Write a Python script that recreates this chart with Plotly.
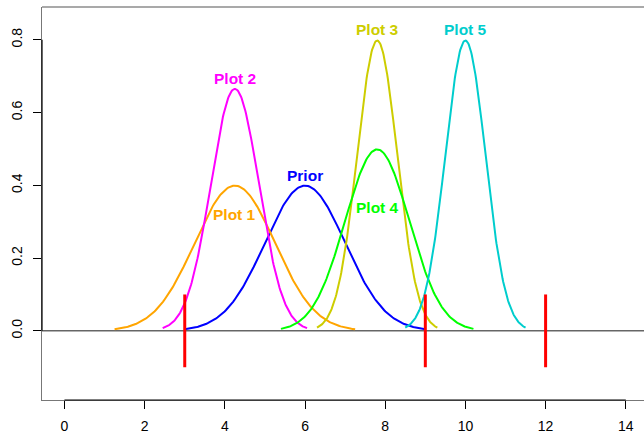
import numpy as np
import plotly.graph_objects as go

# Normal density curves: name, mean, sd, colour
curve_names = ["Prior", "Plot 1", "Plot 2", "Plot 3", "Plot 4", "Plot 5"]
curve_means = [6.0, 4.25, 4.25, 7.8, 7.8, 10.0]
curve_sds = [1.0, 1.0, 0.6, 0.5, 0.8, 0.5]
curve_colors = ["#0000FF", "#FFA500", "#FF00FF", "#CDCD00", "#00FF00", "#00CDCD"]

# Label positions (data coords)
label_x = [6.0, 4.25, 4.25, 7.8, 7.8, 10.0]
label_y = [0.428, 0.32, 0.693, 0.828, 0.338, 0.828]

# Red markers
marker_x = [3, 9, 12]
marker_lo = -0.1
marker_hi = 0.1

x_ticks = [0, 2, 4, 6, 8, 10, 12, 14]
y_ticks = [0.0, 0.2, 0.4, 0.6, 0.8]
y_tick_text = ["0.0", "0.2", "0.4", "0.6", "0.8"]

fig = go.Figure()

for name, m, s, c in zip(curve_names, curve_means, curve_sds, curve_colors):
    xs = np.linspace(m - 3 * s, m + 3 * s, 200)
    ys = np.exp(-0.5 * ((xs - m) / s) ** 2) / (s * np.sqrt(2 * np.pi))
    fig.add_trace(go.Scatter(x=xs, y=ys, mode="lines", line=dict(color=c, width=2),
                             showlegend=False, hoverinfo="skip"))

# horizontal reference line at 0
fig.add_hline(y=0, line=dict(color="#666666", width=1.5), layer="below")

# red segments
rx, ry = [], []
for v in marker_x:
    rx += [v, v, None]
    ry += [marker_lo, marker_hi, None]
fig.add_trace(go.Scatter(x=rx, y=ry, mode="lines", line=dict(color="#FF0000", width=3),
                         showlegend=False, hoverinfo="skip"))

for name, lx, ly, c in zip(curve_names, label_x, label_y, curve_colors):
    fig.add_annotation(x=lx, y=ly, text="<b>%s</b>" % name, showarrow=False,
                       font=dict(family="Liberation Sans, Arial", size=15.5, color=c))

# black axis segments between first and last ticks
fig.add_shape(type="line", xref="x", yref="paper", x0=x_ticks[0], x1=x_ticks[-1], y0=0, y1=0,
              line=dict(color="black", width=1.2))
fig.add_shape(type="line", xref="paper", yref="y", x0=0, x1=0, y0=y_ticks[0], y1=y_ticks[-1],
              line=dict(color="black", width=1.2))
# top of box
fig.add_shape(type="line", xref="paper", yref="paper", x0=0, x1=1, y0=1, y1=1,
              line=dict(color="#555555", width=1.2))

fig.update_layout(
    width=644, height=431,
    margin=dict(l=42, r=0, t=7, b=31, autoexpand=False),
    plot_bgcolor="white", paper_bgcolor="white",
    font=dict(family="Liberation Sans, Arial", size=14, color="black"),
    xaxis=dict(range=[-0.56, 14.454], tickvals=x_ticks, ticks="outside", ticklen=8,
               tickcolor="black", showgrid=False, zeroline=False, showline=True,
               linecolor="#777777", linewidth=1.2, ticklabelstandoff=5, automargin=False),
    yaxis=dict(range=[-0.19, 0.89], tickvals=y_ticks, ticktext=y_tick_text, ticks="outside",
               ticklen=8, tickcolor="black", tickangle=-90, showgrid=False, zeroline=False,
               showline=True, linecolor="#777777", linewidth=1.2, ticklabelstandoff=5,
               automargin=False),
)

fig.write_html("out.html", config={"displayModeBar": False},
               post_script="document.body.style.margin='0';document.body.style.overflow='hidden';")
